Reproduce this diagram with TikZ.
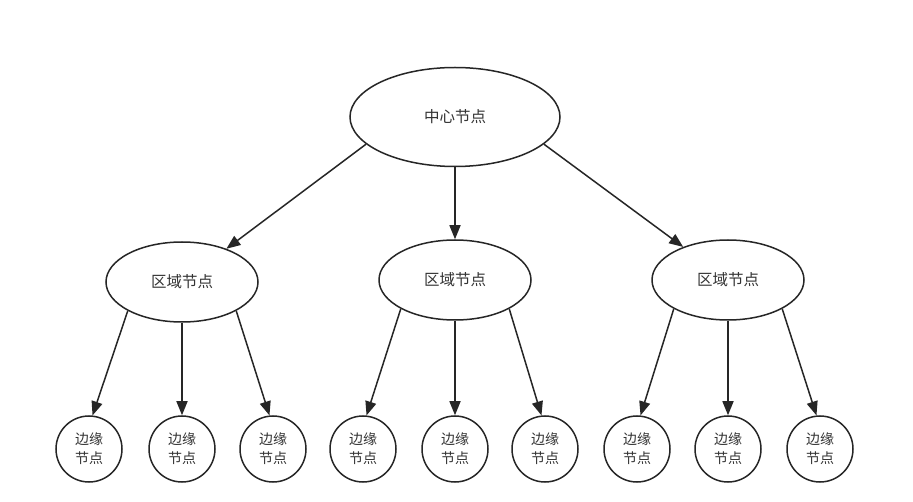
\documentclass[tikz,border=0pt]{standalone}
\usepackage{fontspec}
\newfontfamily\cjk{Noto Sans CJK SC}
\usetikzlibrary{shapes.geometric,arrows.meta}
\definecolor{linec}{HTML}{262626}
\definecolor{textc}{HTML}{333333}
\tikzset{
  base/.style={draw=linec, line width=1.5pt, fill=white, inner sep=0pt, text=textc, font=\cjk\fontsize{15.5}{18}\selectfont},
  center/.style={base, ellipse, minimum width=210pt, minimum height=99pt},
  region/.style={base, ellipse, minimum width=152pt, minimum height=80pt},
  leaf/.style={base, circle, minimum size=66pt, align=center, font=\cjk\fontsize{14}{19}\selectfont},
  conn/.style={draw=linec, line width=1.5pt, -{Triangle[length=14pt,width=11pt]}}
}
\begin{document}
\begin{tikzpicture}[x=1pt,y=-1pt]
\useasboundingbox (0,0) rectangle (913,502);
\fill[white] (0,0) rectangle (913,502);
\node[center] (c) at (455,117) {中心节点};
\node[region] (r1) at (182,282) {区域节点};
\node[region] (r2) at (455,280) {区域节点};
\node[region] (r3) at (728,280) {区域节点};
\foreach \n/\x in {l1/89,l2/182,l3/273,m1/363,m2/455,m3/545,n1/637,n2/728,n3/820}{
  \node[leaf] (\n) at (\x,449) {边缘\\节点};
}
\draw[conn] (c.197) -- (r1);
\draw[conn] (c.south) -- (r2.north);
\draw[conn] (c.-17) -- (r3);
\foreach \r/\a/\b/\c in {r1/l1/l2/l3, r2/m1/m2/m3, r3/n1/n2/n3}{
  \draw[conn] (\r.208) -- (\a.84);
  \draw[conn] (\r.south) -- (\b.north);
  \draw[conn] (\r.-28) -- (\c.96);
}
\end{tikzpicture}
\end{document}
